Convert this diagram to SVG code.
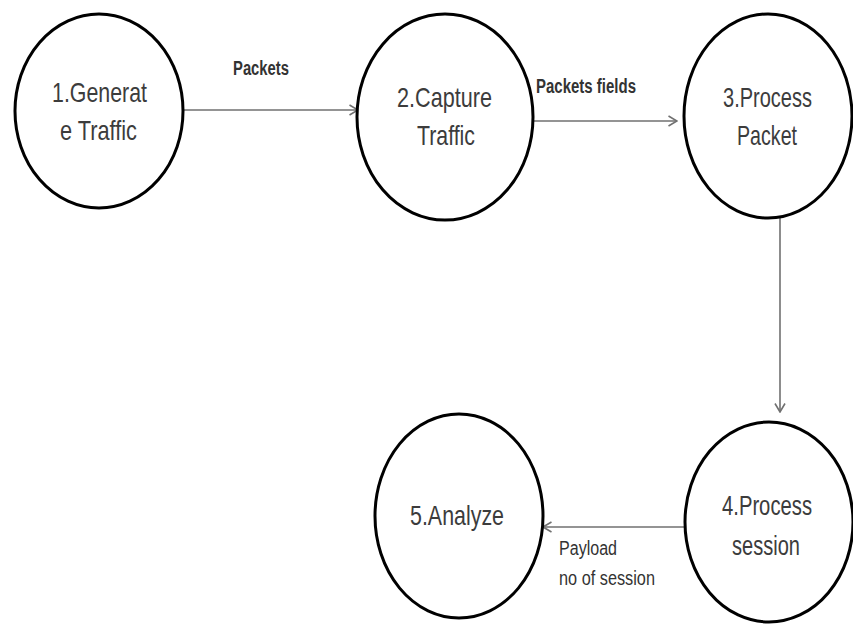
<svg xmlns="http://www.w3.org/2000/svg" width="853" height="627" viewBox="0 0 853 627">
  <style>
    .node ellipse { fill: #ffffff; stroke: #000000; stroke-width: 3; }
    .label { font-family: "Liberation Sans", Arial, sans-serif; font-size: 28px; fill: #3c3c3c; }
    .edge { stroke: #707070; stroke-width: 1.6; fill: none; }
    .elabel { font-family: "Liberation Sans", Arial, sans-serif; font-size: 20px; fill: #333333; }
    .bold { font-weight: bold; }
  </style>
  <defs>
    <marker id="arrow" viewBox="0 0 10 12" refX="9.5" refY="6" markerWidth="10" markerHeight="12" markerUnits="userSpaceOnUse" orient="auto">
      <path d="M1,1 L9.5,6 L1,11" fill="none" stroke="#707070" stroke-width="1.6"/>
    </marker>
  </defs>
  <rect width="853" height="627" fill="#ffffff"/>

  <g id="connectors">
    <line class="edge" x1="184" y1="110" x2="358" y2="110" marker-end="url(#arrow)"/>
    <line class="edge" x1="534" y1="121" x2="677" y2="121" marker-end="url(#arrow)"/>
    <line class="edge" x1="780" y1="218" x2="780" y2="412" marker-end="url(#arrow)"/>
    <line class="edge" x1="685" y1="527" x2="543" y2="527" marker-end="url(#arrow)"/>
    <text class="elabel bold" x="233" y="75" textLength="56" lengthAdjust="spacingAndGlyphs">Packets</text>
    <text class="elabel bold" x="536" y="93" textLength="100" lengthAdjust="spacingAndGlyphs">Packets fields</text>
    <text class="elabel" x="559" y="555" textLength="58" lengthAdjust="spacingAndGlyphs">Payload</text>
    <text class="elabel" x="559" y="585" textLength="96" lengthAdjust="spacingAndGlyphs">no of session</text>
  </g>

  <g id="node1" class="node">
    <ellipse cx="99" cy="111" rx="84" ry="97"/>
    <text class="label" x="52" y="102" textLength="95" lengthAdjust="spacingAndGlyphs">1.Generat</text>
    <text class="label" x="60" y="140" textLength="77" lengthAdjust="spacingAndGlyphs">e Traffic</text>
  </g>

  <g id="node2" class="node">
    <ellipse cx="445" cy="117" rx="88" ry="103"/>
    <text class="label" x="397" y="107" textLength="95" lengthAdjust="spacingAndGlyphs">2.Capture</text>
    <text class="label" x="417" y="145" textLength="58" lengthAdjust="spacingAndGlyphs">Traffic</text>
  </g>

  <g id="node3" class="node">
    <ellipse cx="768" cy="116" rx="84" ry="102"/>
    <text class="label" x="723" y="107" textLength="89" lengthAdjust="spacingAndGlyphs">3.Process</text>
    <text class="label" x="737" y="145" textLength="60" lengthAdjust="spacingAndGlyphs">Packet</text>
  </g>

  <g id="node4" class="node">
    <ellipse cx="769" cy="522" rx="84" ry="100"/>
    <text class="label" x="722" y="515" textLength="90" lengthAdjust="spacingAndGlyphs">4.Process</text>
    <text class="label" x="732" y="555" textLength="68" lengthAdjust="spacingAndGlyphs">session</text>
  </g>

  <g id="node5" class="node">
    <ellipse cx="459" cy="516" rx="84" ry="102"/>
    <text class="label" x="410" y="525" textLength="94" lengthAdjust="spacingAndGlyphs">5.Analyze</text>
  </g>
</svg>
